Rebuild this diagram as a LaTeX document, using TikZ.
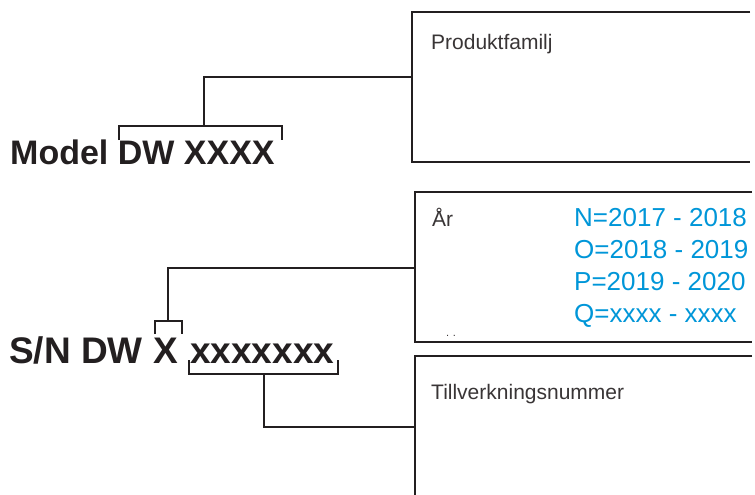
\documentclass[tikz,border=0pt]{standalone}
\usepackage{fontspec}
\setmainfont{Liberation Sans}
\usepackage{xcolor}
\usetikzlibrary{positioning}
\definecolor{inkgray}{HTML}{231F20}
\definecolor{yearblue}{HTML}{0096D8}

\begin{document}
\begin{tikzpicture}[x=1pt,y=-1pt]
\tikzset{wire/.style={draw=inkgray,line width=1.3pt}}
\tikzset{codetext/.style={font=\fontsize{34}{34}\bfseries\selectfont,text=inkgray,inner sep=0pt,anchor=base west}}
\tikzset{sntext/.style={codetext,font=\fontsize{37}{37}\bfseries\selectfont}}
\tikzset{boxlabel/.style={font=\fontsize{21}{21}\selectfont,text=inkgray!90,inner sep=0pt,anchor=base west}}
\tikzset{yearline/.style={font=\fontsize{26}{26}\selectfont,text=yearblue,inner sep=0pt,anchor=base west}}

\useasboundingbox (0,0) rectangle (755,495);

% open boxes
\draw[wire] (750,12) -- (412,12) -- (412,162) -- (750,162);
\draw[wire] (752,192) -- (415,192) -- (415,342) -- (752,342);
\draw[wire] (752,356) -- (415,356) -- (415,495);
\coordinate (famin) at (412,77);
\coordinate (yearin) at (415,268);
\coordinate (numin) at (415,427);

% box texts
\node[boxlabel] (fam) at (431,50) {Produktfamilj};
\node[boxlabel] (year) at (432,226) {År};
\node[yearline] (yN) at (574,226) {N=2017 - 2018};
\node[yearline] (yO) at (574,258) {O=2018 - 2019};
\node[yearline] (yP) at (574,290) {P=2019 - 2020};
\node[yearline] (yQ) at (574,322) {Q=xxxx - xxxx};
\node[boxlabel,font=\fontsize{11}{11}\selectfont] (dots) at (446,336) {.\,\,.};
\node[boxlabel] (num) at (431,399) {Tillverkningsnummer};

% codes
\node[codetext] (model) at (10,164) {Model DW XXXX};
\node[sntext] (sn) at (9,363) {S/N DW X};
\node[sntext] (serial) at (190,363) {xxxxxxx};

% model bracket
\coordinate (mb) at (204,126);
\draw[wire] (119,140) -- (119,126) -- (282,126) -- (282,140);
\draw[wire] (mb) |- (famin);

% year bracket
\coordinate (yb) at (168,321);
\draw[wire] (155,334) -- (155,321) -- (182,321) -- (182,334);
\draw[wire] (yb) |- (yearin);

% number bracket
\coordinate (nb) at (264,374);
\draw[wire] (189,360) -- (189,374) -- (338,374) -- (338,360);
\draw[wire] (nb) |- (numin);

\end{tikzpicture}
\end{document}
